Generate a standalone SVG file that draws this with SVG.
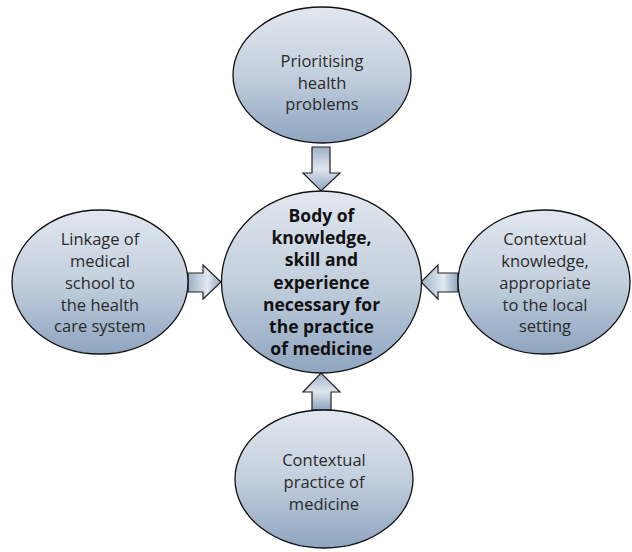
<svg xmlns="http://www.w3.org/2000/svg" width="632" height="552" viewBox="0 0 632 552">
<defs>
<linearGradient id="eg" x1="0" y1="0" x2="0" y2="1">
<stop offset="0" stop-color="#e1e7ef"/>
<stop offset="0.5" stop-color="#c3cfdd"/>
<stop offset="1" stop-color="#8ea4c0"/>
</linearGradient>
<linearGradient id="agh" x1="0" y1="0" x2="1" y2="0">
<stop offset="0" stop-color="#9db0c8"/>
<stop offset="0.6" stop-color="#e3e9f0"/>
<stop offset="1" stop-color="#8ea4c0"/>
</linearGradient>
<linearGradient id="agv" x1="0" y1="0" x2="0" y2="1">
<stop offset="0" stop-color="#9db0c8"/>
<stop offset="0.5" stop-color="#dfe6ee"/>
<stop offset="1" stop-color="#8ea4c0"/>
</linearGradient>
</defs>
<style>
.node ellipse{fill:url(#eg);stroke:#111;stroke-width:1.3}
.arr{stroke:#222;stroke-width:1.2;stroke-linejoin:miter}
.t{font-family:"Open Sans","Noto Sans",sans-serif;font-size:16.5px;fill:#2a2a2a;text-anchor:middle}
.b{font-family:"Open Sans","Noto Sans",sans-serif;font-size:17.5px;font-weight:bold;fill:#111;text-anchor:middle}
</style>
<g id="connectors">
<polygon class="arr" fill="url(#agv)" points="312,147 330,147 330,173 340,173 321,191 303,173 312,173"/>
<polygon class="arr" fill="url(#agh)" points="188,273 203,273 203,265 221,282 203,299 203,292 188,292"/>
<polygon class="arr" fill="url(#agh)" points="458,273 438,273 438,265 421,282 438,299 438,292 458,292"/>
<polygon class="arr" fill="url(#agv)" points="312,410 331,410 331,392 340,392 321,373 303,392 312,392"/>
</g>
<g id="node-top" class="node">
<ellipse cx="322" cy="75" rx="89" ry="68"/>
<text class="t" x="322" y="67">Prioritising</text>
<text class="t" x="322" y="89">health</text>
<text class="t" x="322" y="110">problems</text>
</g>
<g id="node-center" class="node">
<ellipse cx="321.5" cy="282" rx="100" ry="91"/>
<text class="b" x="321.5" y="222">Body of</text>
<text class="b" x="321.5" y="244">knowledge,</text>
<text class="b" x="321.5" y="266">skill and</text>
<text class="b" x="321.5" y="289">experience</text>
<text class="b" x="321.5" y="311">necessary for</text>
<text class="b" x="321.5" y="333">the practice</text>
<text class="b" x="321.5" y="355">of medicine</text>
</g>
<g id="node-left" class="node">
<ellipse cx="100" cy="282" rx="88" ry="72"/>
<text class="t" x="100" y="245">Linkage of</text>
<text class="t" x="100" y="267">medical</text>
<text class="t" x="100" y="289">school to</text>
<text class="t" x="100" y="311">the health</text>
<text class="t" x="100" y="332">care system</text>
</g>
<g id="node-right" class="node">
<ellipse cx="544" cy="282" rx="86" ry="72"/>
<text class="t" x="545" y="245">Contextual</text>
<text class="t" x="545" y="267">knowledge,</text>
<text class="t" x="545" y="289">appropriate</text>
<text class="t" x="545" y="311">to the local</text>
<text class="t" x="545" y="332">setting</text>
</g>
<g id="node-bottom" class="node">
<ellipse cx="324" cy="479" rx="89" ry="69"/>
<text class="t" x="324" y="466">Contextual</text>
<text class="t" x="324" y="488">practice of</text>
<text class="t" x="324" y="510">medicine</text>
</g>
</svg>
